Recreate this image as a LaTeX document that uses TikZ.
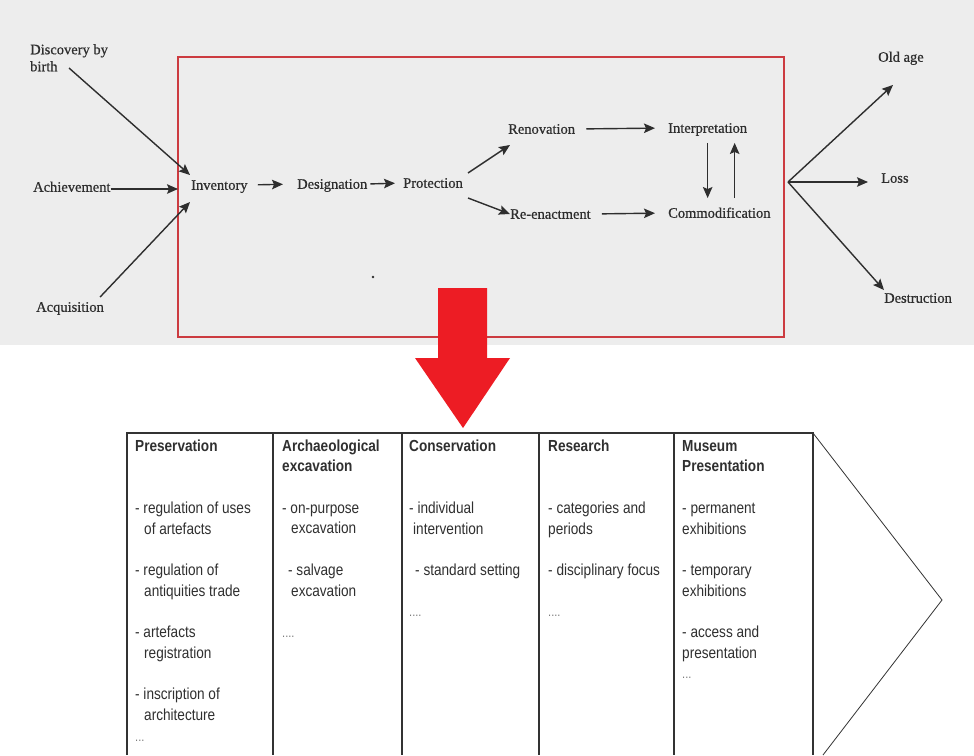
\documentclass[tikz,border=0pt]{standalone}
\usepackage{fontspec}
\setmainfont{Liberation Serif}[FakeBold=0.6]
\newfontfamily\tabfont[FakeStretch=0.85]{Liberation Sans}
\usetikzlibrary{arrows.meta}
\definecolor{paper}{HTML}{EDEDED}
\definecolor{ink}{HTML}{2E2E2E}
\definecolor{boxred}{HTML}{CC3B40}
\definecolor{bigred}{HTML}{ED1C24}
\definecolor{tabline}{HTML}{333333}
\definecolor{tabtext}{HTML}{303030}
\definecolor{dotgray}{HTML}{7A7A7A}
\tikzset{
  lbl/.style={inner sep=0pt, anchor=west, text height=9.5pt, text depth=0pt,
    font=\fontsize{14.5}{17}\selectfont, text=ink},
  mlbl/.style={inner sep=0pt, anchor=north west, align=left,
    font=\fontsize{14.5}{17}\selectfont, text=ink},
  arr/.style={draw=ink, line width=1.4pt, -{Stealth[length=11pt,width=9.5pt,inset=2pt]}},
  tcol/.style={inner sep=0pt, anchor=north west, align=left, text=tabtext,
    font=\tabfont\fontsize{16}{20.7}\selectfont},
}
\newcommand{\tdots}[1]{\textcolor{dotgray}{\fontsize{13}{14}\selectfont #1}}
\begin{document}
\begin{tikzpicture}[x=1pt,y=-1pt]
\useasboundingbox (0,0) rectangle (974,755);
\fill[white] (0,0) rectangle (974,755);
\fill[paper] (0,0) rectangle (974,345);

% red frame
\draw[boxred, line width=1.4pt] (178,57) rectangle (784,337);

% labels
\node[mlbl] (disc) at (30,44) {Discovery by\\birth};
\node[lbl] (ach) at (33,187) {Achievement};
\node[lbl] (acq) at (36,307) {Acquisition};
\node[lbl] (inv) at (191,185) {Inventory};
\node[lbl] (des) at (297,184) {Designation};
\node[lbl] (pro) at (403,183) {Protection};
\node[lbl] (ren) at (508,129) {Renovation};
\node[lbl] (int) at (668,128) {Interpretation};
\node[lbl] (ree) at (510,214) {Re-enactment};
\node[lbl] (com) at (668,213) {Commodification};
\node[lbl] (old) at (878,57) {Old age};
\node[lbl] (loss) at (881,178) {Loss};
\node[lbl] (dst) at (884,298) {Destruction};

% connectors
\coordinate (d1) at (69,68);
\draw[arr] (d1) -- ([xshift=-1pt,yshift=10pt]inv.west);
\draw[arr, shorten >=13pt] ([yshift=-2pt]ach.east) -- ([yshift=-2pt]ach.east -| inv.west);
\draw[arr] ([xshift=-4pt,yshift=5pt]acq.north east) -- ([xshift=-1pt,yshift=-17pt]inv.west);
\draw[arr, shorten <=10pt, shorten >=14pt] (inv.east) -- (des.west);
\draw[arr, shorten <=3pt, shorten >=8pt] (des.east) -- (pro.west);
\draw[arr] ([xshift=5pt,yshift=10pt]pro.east) -- ([xshift=2pt,yshift=-16pt]ren.west);
\draw[arr] ([xshift=5pt,yshift=-15pt]pro.east) -- (ree.west);
\draw[arr, shorten <=11pt, shorten >=13pt] (ren.east) -- (int.west);
\draw[arr, shorten <=11pt, shorten >=13pt] (ree.east) -- (com.west);
\draw[arr, shorten <=10pt, shorten >=10pt] (int.south) -- (int.south |- com.north);
\coordinate (up1) at ([xshift=27pt]int.south);
\draw[arr, shorten <=10pt, shorten >=10pt] (up1 |- com.north) -- (up1);
\coordinate (fan) at (788,182);
\draw[arr] (fan) -- ([xshift=15pt,yshift=-23pt]old.south west);
\draw[arr] (fan) -- ([xshift=-13pt,yshift=-4pt]loss.west);
\draw[arr] (fan) -- ([yshift=3pt]dst.north west);

% speck
\fill[ink] (373,277) circle (1.3);

% big red arrow
\fill[bigred] (438,288) -- (487,288) -- (487,358) -- (510,358) -- (463,428)
  -- (415,358) -- (438,358) -- cycle;

% table frame
\draw[tabline, line width=1.2pt] (127,755) -- (127,433) -- (813,433) -- (813,755);
\foreach \cx in {273,402,539,674} \draw[tabline, line width=1.1pt] (\cx,433) -- (\cx,755);
\draw[tabline, line width=0.8pt] (813,433) -- (942,600) -- (823,755);

% table columns
\node[tcol] (c1) at (135,436.5) {\strut\textbf{Preservation}\\[41.4pt]
- regulation of uses\\\hspace*{9pt}of artefacts\\[20.7pt]
- regulation of\\\hspace*{9pt}antiquities trade\\[20.7pt]
- artefacts\\\hspace*{9pt}registration\\[20.7pt]
- inscription of\\\hspace*{9pt}architecture\\
\tdots{...}};
\node[tcol] (c2) at (282,436.5) {\strut\textbf{Archaeological}\\\textbf{excavation}\\[20.7pt]
- on-purpose\\\hspace*{9pt}excavation\\[20.7pt]
\hspace*{6pt}- salvage\\\hspace*{9pt}excavation\\[20.7pt]
\tdots{....}};
\node[tcol] (c3) at (409,436.5) {\strut\textbf{Conservation}\\[41.4pt]
- individual\\\hspace*{4pt}intervention\\[20.7pt]
\hspace*{6pt}- standard setting\\[20.7pt]
\tdots{....}};
\node[tcol] (c4) at (548,436.5) {\strut\textbf{Research}\\[41.4pt]
- categories and\\periods\\[20.7pt]
- disciplinary focus\\[20.7pt]
\tdots{....}};
\node[tcol] (c5) at (682,436.5) {\strut\textbf{Museum}\\\textbf{Presentation}\\[20.7pt]
- permanent\\exhibitions\\[20.7pt]
- temporary\\exhibitions\\[20.7pt]
- access and\\presentation\\
\tdots{...}};
\end{tikzpicture}
\end{document}
